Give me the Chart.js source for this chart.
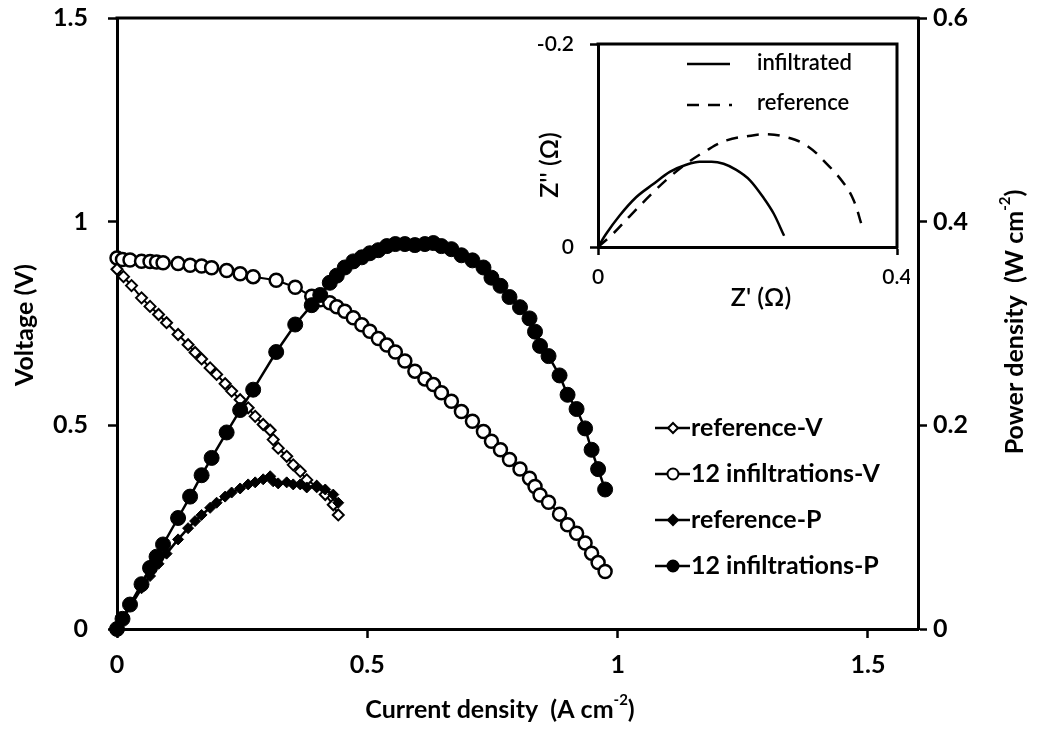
<!DOCTYPE html>
<html>
<head>
<meta charset="utf-8">
<script src="https://cdn.jsdelivr.net/npm/chart.js@4.4.1/dist/chart.umd.min.js"></script>
<style>
  html, body { margin: 0; padding: 0; background: #fff; }
  #wrap { position: relative; width: 1037px; height: 729px; }
  #mainChart { position: absolute; left: 0; top: 0; }
  #insetChart { position: absolute; left: 520px; top: 30px; }
</style>
</head>
<body>
<div id="wrap">
  <canvas id="mainChart" width="1037" height="729"></canvas>
  <canvas id="insetChart" width="390" height="290"></canvas>
</div>
<script>
// --- data ---
const refCurrent = [0, 0.013, 0.029, 0.049, 0.066, 0.083, 0.099, 0.122, 0.142, 0.156, 0.169, 0.186, 0.199, 0.216, 0.229,
                    0.246, 0.262, 0.276, 0.292, 0.306, 0.312, 0.322, 0.339, 0.352, 0.366, 0.379, 0.399, 0.416, 0.432, 0.442];
const refVoltage = [0.883, 0.865, 0.843, 0.813, 0.792, 0.772, 0.752, 0.723, 0.698, 0.679, 0.663, 0.641, 0.625, 0.602, 0.584,
                    0.563, 0.543, 0.522, 0.502, 0.488, 0.465, 0.444, 0.424, 0.403, 0.387, 0.366, 0.350, 0.330, 0.305, 0.280];
const refPower   = [0, 0.011, 0.024, 0.040, 0.052, 0.064, 0.074, 0.088, 0.099, 0.106, 0.112, 0.119, 0.124, 0.130, 0.134,
                    0.138, 0.142, 0.144, 0.147, 0.150, 0.145, 0.143, 0.144, 0.142, 0.142, 0.139, 0.140, 0.137, 0.132, 0.124];

const infCurrent = [0, 0.011, 0.026, 0.049, 0.066, 0.079, 0.092, 0.122, 0.146, 0.169, 0.189, 0.219, 0.246, 0.272, 0.318,
                    0.356, 0.389, 0.406, 0.425, 0.439, 0.455, 0.472, 0.489, 0.505, 0.522, 0.539, 0.556, 0.575, 0.595,
                    0.615, 0.632, 0.648, 0.668, 0.688, 0.710, 0.732, 0.748, 0.766, 0.784, 0.805, 0.824, 0.835, 0.845,
                    0.862, 0.884, 0.900, 0.918, 0.935, 0.948, 0.961, 0.975];
const infVoltage = [0.911, 0.907, 0.906, 0.903, 0.902, 0.901, 0.899, 0.897, 0.893, 0.891, 0.887, 0.880, 0.872, 0.865, 0.856,
                    0.839, 0.817, 0.808, 0.801, 0.791, 0.780, 0.764, 0.747, 0.731, 0.713, 0.697, 0.680, 0.658, 0.633,
                    0.614, 0.600, 0.580, 0.559, 0.534, 0.510, 0.485, 0.461, 0.440, 0.416, 0.393, 0.370, 0.350, 0.329,
                    0.311, 0.282, 0.256, 0.235, 0.211, 0.186, 0.163, 0.141];
const infPower   = [0, 0.010, 0.024, 0.044, 0.060, 0.071, 0.083, 0.109, 0.130, 0.151, 0.168, 0.193, 0.215, 0.235, 0.272,
                    0.299, 0.318, 0.328, 0.340, 0.347, 0.355, 0.361, 0.365, 0.369, 0.372, 0.376, 0.378, 0.378, 0.377,
                    0.378, 0.379, 0.376, 0.373, 0.367, 0.362, 0.355, 0.345, 0.337, 0.326, 0.316, 0.305, 0.292, 0.278,
                    0.268, 0.249, 0.230, 0.216, 0.197, 0.176, 0.157, 0.137];

const currentTicks = [0, 0.5, 1, 1.5];
const voltageTicks = [0, 0.5, 1, 1.5];
const powerTicks = [0, 0.2, 0.4, 0.6];

// inset impedance (Z' real, Z'' imaginary, negative)
const insetInfRe = [0, 0.011, 0.029, 0.051, 0.074, 0.096, 0.118, 0.136, 0.152, 0.168, 0.185, 0.203, 0.221, 0.235, 0.249];
const insetInfIm = [0, -0.013, -0.031, -0.049, -0.062, -0.074, -0.081, -0.084, -0.084, -0.082, -0.076, -0.066, -0.049, -0.033, -0.011];
const insetRefRe = [0, 0.020, 0.042, 0.074, 0.096, 0.118, 0.145, 0.172, 0.199, 0.226, 0.253, 0.279, 0.306, 0.329, 0.342, 0.353];
const insetRefIm = [0, -0.013, -0.030, -0.054, -0.069, -0.082, -0.095, -0.105, -0.109, -0.111, -0.108, -0.100, -0.082, -0.0625, -0.046, -0.021];
const insetReTicks = [0, 0.4];
const insetImTicks = [-0.2, 0];

const FONT = 'Lato, "Open Sans", sans-serif';

function pairs(xs, ys) { return xs.map((x, i) => ({ x: x, y: ys[i] })); }
function plainLabel(v) { return String(v); }

// fixed size for a scale, no extra label overflow padding
function fixSize(prop, size) {
  return s => {
    s[prop] = size;
    s.paddingTop = 0; s.paddingBottom = 0; s.paddingLeft = 0; s.paddingRight = 0;
  };
}

// text with superscript parts, centred at (cx, cy)
function drawRich(ctx, parts, cx, cy, size, weight) {
  let total = 0;
  parts.forEach(p => {
    ctx.font = weight + ' ' + (p.sup ? size * 0.6 : size) + 'px ' + FONT;
    p.w = ctx.measureText(p.t).width;
    total += p.w;
  });
  let x = cx - total / 2;
  ctx.textAlign = 'left';
  ctx.textBaseline = 'middle';
  parts.forEach(p => {
    ctx.font = weight + ' ' + (p.sup ? size * 0.6 : size) + 'px ' + FONT;
    ctx.fillText(p.t, x, p.sup ? cy - size * 0.38 : cy);
    x += p.w;
  });
}

function drawMarker(ctx, style, filled, r, x, y) {
  ctx.beginPath();
  if (style === 'rectRot') {
    ctx.moveTo(x, y - r); ctx.lineTo(x + r, y); ctx.lineTo(x, y + r); ctx.lineTo(x - r, y); ctx.closePath();
  } else {
    ctx.arc(x, y, r, 0, Math.PI * 2);
  }
  ctx.fillStyle = filled ? '#000' : '#fff';
  ctx.fill();
  ctx.lineWidth = 2;
  ctx.strokeStyle = '#000';
  ctx.stroke();
}

const mainDeco = {
  id: 'mainDeco',
  afterDraw(chart) {
    const ctx = chart.ctx, a = chart.chartArea;
    ctx.save();
    // top frame line
    ctx.strokeStyle = '#000';
    ctx.lineWidth = 3;
    ctx.beginPath();
    ctx.moveTo(a.left - 1.5, a.top);
    ctx.lineTo(a.right + 1.5, a.top);
    ctx.stroke();

    // axis titles
    ctx.fillStyle = '#000';
    drawRich(ctx, [{ t: 'Current density  (A cm' }, { t: '-2', sup: true }, { t: ')' }], 500, 710, 25, 'bold');
    ctx.save();
    ctx.translate(25, 325);
    ctx.rotate(-Math.PI / 2);
    drawRich(ctx, [{ t: 'Voltage (V)' }], 0, 0, 25, 'bold');
    ctx.restore();
    ctx.save();
    ctx.translate(1015, 322);
    ctx.rotate(-Math.PI / 2);
    drawRich(ctx, [{ t: 'Power density  (W cm' }, { t: '-2', sup: true }, { t: ')' }], 0, 0, 25, 'bold');
    ctx.restore();

    // legend
    const items = [
      { label: 'reference-V', style: 'rectRot', filled: false },
      { label: '12 infiltrations-V', style: 'circle', filled: false },
      { label: 'reference-P', style: 'rectRot', filled: true },
      { label: '12 infiltrations-P', style: 'circle', filled: true }
    ];
    items.forEach((it, i) => {
      const y = 428 + i * 46;
      ctx.strokeStyle = '#000';
      ctx.lineWidth = 2.5;
      ctx.beginPath();
      ctx.moveTo(655, y);
      ctx.lineTo(690, y);
      ctx.stroke();
      drawMarker(ctx, it.style, it.filled, it.style === 'circle' ? 5.5 : 5, 673, y);
      ctx.fillStyle = '#000';
      ctx.font = 'bold 25px ' + FONT;
      ctx.textAlign = 'left';
      ctx.textBaseline = 'middle';
      ctx.fillText(it.label, 691, y);
    });
    ctx.restore();
  }
};

const axisLine = { color: '#000', width: 3 };
const tickGrid = { drawOnChartArea: false, tickLength: 9, tickWidth: 2.5, tickColor: '#000' };
const tickFont = { family: FONT, size: 25, weight: 'bold' };

new Chart(document.getElementById('mainChart'), {
  type: 'line',
  data: {
    datasets: [{
      label: 'reference-V', data: pairs(refCurrent, refVoltage), yAxisID: 'y',
      borderColor: '#000', borderWidth: 2, pointStyle: 'rectRot', pointRadius: 5.5,
      pointBackgroundColor: '#fff', pointBorderColor: '#000', pointBorderWidth: 2, order: 3, clip: false
    }, {
      label: '12 infiltrations-V', data: pairs(infCurrent, infVoltage), yAxisID: 'y',
      borderColor: '#000', borderWidth: 2, pointStyle: 'circle', pointRadius: 6.5,
      pointBackgroundColor: '#fff', pointBorderColor: '#000', pointBorderWidth: 2.5, order: 4, clip: false
    }, {
      label: 'reference-P', data: pairs(refCurrent, refPower), yAxisID: 'y2',
      borderColor: '#000', borderWidth: 2.5, pointStyle: 'rectRot', pointRadius: 5.5,
      pointBackgroundColor: '#000', pointBorderColor: '#000', pointBorderWidth: 1, order: 2, clip: false
    }, {
      label: '12 infiltrations-P', data: pairs(infCurrent, infPower), yAxisID: 'y2',
      borderColor: '#000', borderWidth: 2.5, pointStyle: 'circle', pointRadius: 7.5,
      pointBackgroundColor: '#000', pointBorderColor: '#000', pointBorderWidth: 1, order: 1, clip: false
    }]
  },
  options: {
    responsive: false,
    devicePixelRatio: 1,
    animation: false,
    layout: { padding: { top: 18, left: 0, right: 0, bottom: 0 } },
    plugins: { legend: { display: false }, tooltip: { enabled: false } },
    scales: {
      x: {
        type: 'linear', min: 0, max: 1.6,
        afterBuildTicks: s => { s.ticks = currentTicks.map(v => ({ value: v })); },
        afterFit: fixSize('height', 100),
        grid: tickGrid, border: axisLine,
        ticks: { color: '#000', font: tickFont, padding: 12, maxRotation: 0, callback: plainLabel }
      },
      y: {
        position: 'left', min: 0, max: 1.5,
        afterBuildTicks: s => { s.ticks = voltageTicks.map(v => ({ value: v })); },
        afterFit: fixSize('width', 117),
        grid: tickGrid, border: axisLine,
        ticks: { color: '#000', font: tickFont, padding: 20, callback: plainLabel }
      },
      y2: {
        position: 'right', min: 0, max: 0.6,
        afterBuildTicks: s => { s.ticks = powerTicks.map(v => ({ value: v })); },
        afterFit: fixSize('width', 119),
        grid: tickGrid, border: axisLine,
        ticks: { color: '#000', font: tickFont, padding: 6, callback: plainLabel }
      }
    }
  },
  plugins: [mainDeco]
});

// --- inset: impedance spectra ---
const insetDeco = {
  id: 'insetDeco',
  afterDraw(chart) {
    const ctx = chart.ctx, a = chart.chartArea;
    ctx.save();
    ctx.strokeStyle = '#000';
    ctx.lineWidth = 3;
    ctx.beginPath();
    ctx.moveTo(a.left - 1.5, a.top);
    ctx.lineTo(a.right, a.top);
    ctx.lineTo(a.right, a.bottom + 1.5);
    ctx.stroke();

    ctx.fillStyle = '#000';
    drawRich(ctx, [{ t: 'Z\' (\u03A9)' }], 241, 268, 25, '600');
    ctx.save();
    ctx.translate(30, 135);
    ctx.rotate(-Math.PI / 2);
    drawRich(ctx, [{ t: 'Z\'\' (\u03A9)' }], 0, 0, 25, '600');
    ctx.restore();

    // legend
    ctx.lineWidth = 2.5;
    ctx.beginPath();
    ctx.moveTo(167, 34);
    ctx.lineTo(210, 34);
    ctx.stroke();
    ctx.setLineDash([12, 9]);
    ctx.beginPath();
    ctx.moveTo(167, 75);
    ctx.lineTo(212, 75);
    ctx.stroke();
    ctx.setLineDash([]);
    ctx.font = '600 22px ' + FONT;
    ctx.textAlign = 'left';
    ctx.textBaseline = 'middle';
    ctx.fillText('infiltrated', 237, 33);
    ctx.fillText('reference', 237, 73);
    ctx.restore();
  }
};

const insetFont = { family: FONT, size: 21, weight: '600' };

new Chart(document.getElementById('insetChart'), {
  type: 'line',
  data: {
    datasets: [{
      label: 'infiltrated', data: pairs(insetInfRe, insetInfIm),
      borderColor: '#000', borderWidth: 2.5, pointRadius: 0, tension: 0.4, cubicInterpolationMode: 'monotone'
    }, {
      label: 'reference', data: pairs(insetRefRe, insetRefIm),
      borderColor: '#000', borderWidth: 2.5, borderDash: [12, 9], pointRadius: 0, tension: 0.4
    }]
  },
  options: {
    responsive: false,
    devicePixelRatio: 1,
    animation: false,
    layout: { padding: { top: 14, right: 13, left: 0, bottom: 0 } },
    plugins: { legend: { display: false }, tooltip: { enabled: false } },
    scales: {
      x: {
        type: 'linear', min: 0, max: 0.4,
        afterBuildTicks: s => { s.ticks = insetReTicks.map(v => ({ value: v })); },
        afterFit: fixSize('height', 73),
        grid: { drawOnChartArea: false, tickLength: 8, tickWidth: 2.5, tickColor: '#000' },
        border: axisLine,
        ticks: { color: '#000', font: insetFont, padding: 10, maxRotation: 0, callback: plainLabel }
      },
      y: {
        min: -0.2, max: 0, reverse: true,
        afterBuildTicks: s => { s.ticks = insetImTicks.map(v => ({ value: v })); },
        afterFit: fixSize('width', 78),
        grid: { drawOnChartArea: false, tickLength: 8, tickWidth: 2.5, tickColor: '#000' },
        border: axisLine,
        ticks: { color: '#000', font: insetFont, padding: 16, callback: plainLabel }
      }
    }
  },
  plugins: [insetDeco]
});
</script>
</body>
</html>
